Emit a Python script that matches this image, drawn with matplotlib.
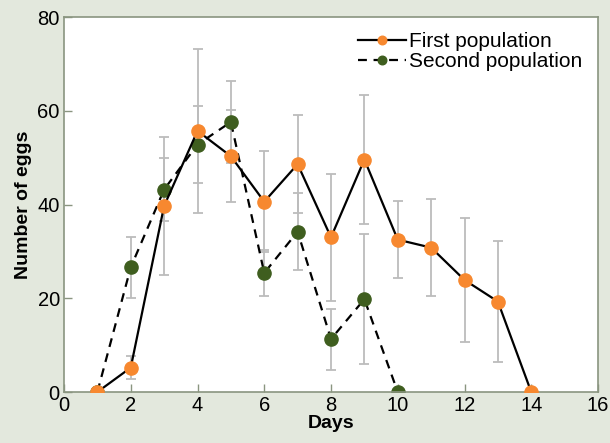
import matplotlib.pyplot as plt
import numpy as np

plt.rcParams['font.family'] = ['Liberation Sans', 'DejaVu Sans']

# first population
days1 = [1, 2, 3, 4, 5, 6, 7, 8, 9, 10, 11, 12, 13, 14]
eggs1 = [0, 5.2, 39.7, 55.7, 50.3, 40.6, 48.6, 33.0, 49.6, 32.5, 30.8, 23.9, 19.3, 0]
err1 = [0, 2.5, 14.8, 17.5, 9.8, 10.8, 10.4, 13.5, 13.7, 8.2, 10.4, 13.3, 13.0, 0]

# second population
days2 = [1, 2, 3, 4, 5, 6, 7, 8, 9, 10]
eggs2 = [0, 26.6, 43.2, 52.8, 57.6, 25.4, 34.2, 11.3, 19.8, 0]
err2 = [0, 6.5, 6.8, 8.2, 8.7, 5.0, 8.2, 6.5, 13.9, 0]

bg = '#e3e8dd'
spine_col = '#8a9580'
orange = '#f7882f'
green = '#3f5e1f'

fig = plt.figure(figsize=(6.1, 4.43), dpi=100, facecolor=bg)
ax = fig.add_axes([64/610, 1 - 392/443, 534/610, 375/443])
ax.set_facecolor('white')

# error bars first so they sit behind the lines
e1 = np.array(err1)
e2 = np.array(err2)
m1 = e1 > 0
m2 = e2 > 0
ax.errorbar(np.array(days1)[m1], np.array(eggs1)[m1], yerr=e1[m1], fmt='none',
            ecolor='#bcbcbc', elinewidth=1.3, capsize=3.6, capthick=1.3, zorder=1)
ax.errorbar(np.array(days2)[m2], np.array(eggs2)[m2], yerr=e2[m2], fmt='none',
            ecolor='#bcbcbc', elinewidth=1.3, capsize=3.6, capthick=1.3, zorder=1)

ax.plot(days1, eggs1, '-', color='black', lw=1.6, marker='o', ms=9.5,
        mfc=orange, mec=orange, label='First population', zorder=3)
ax.plot(days2, eggs2, '--', color='black', lw=1.6, marker='o', ms=9.5,
        mfc=green, mec=green, label='Second population', zorder=2, dashes=(4, 3))

ax.set_xlim(0, 16)
ax.set_ylim(0, 80)
ax.set_xticks(range(0, 17, 2))
ax.set_yticks(range(0, 81, 20))
ax.tick_params(direction='in', length=6, width=1, color=spine_col, labelsize=14.5,
               pad=3)
for s in ax.spines.values():
    s.set_color(spine_col)
    s.set_linewidth(1.2)

ax.set_xlabel('Days', fontsize=14, fontweight='bold', labelpad=0)
ax.set_ylabel('Number of eggs', fontsize=14, fontweight='bold', labelpad=4)

leg = ax.legend(loc='upper right', frameon=False, fontsize=15, handlelength=2.3,
                handletextpad=0.15, labelspacing=0.05, markerscale=0.65,
                bbox_to_anchor=(1.005, 1.01))

fig.savefig('out.png', dpi=100, facecolor=bg)
